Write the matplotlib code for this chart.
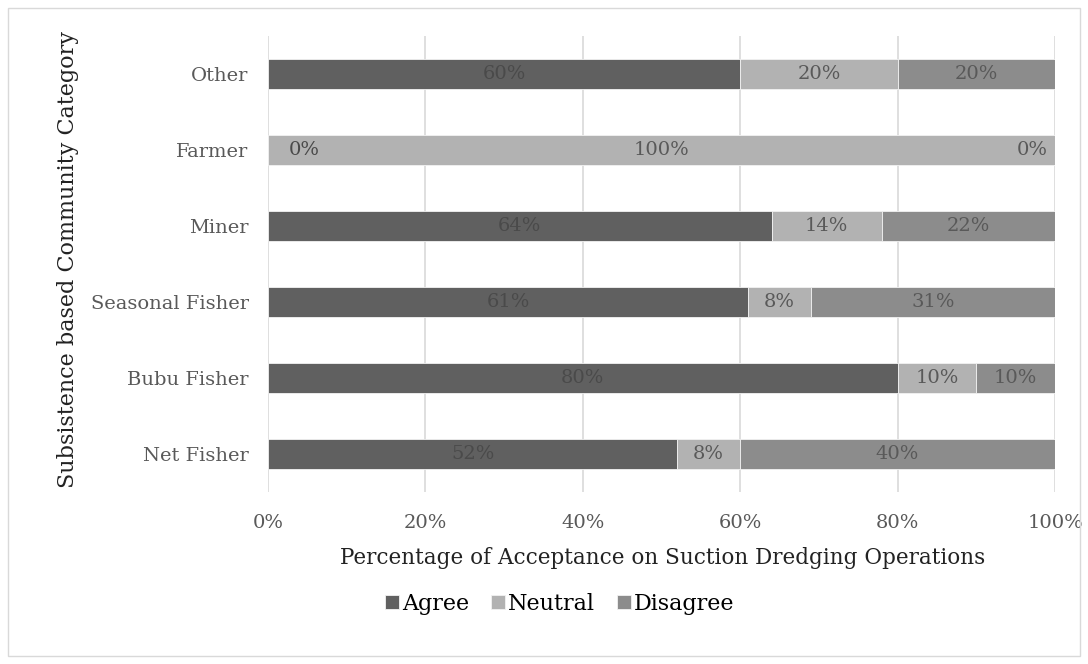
import matplotlib
matplotlib.use("Agg")
import matplotlib.pyplot as plt
from matplotlib.patches import Rectangle

categories = ["Net Fisher", "Bubu Fisher", "Seasonal Fisher", "Miner", "Farmer", "Other"]
agree = [52, 80, 61, 64, 0, 60]
neutral = [8, 10, 8, 14, 100, 20]
disagree = [40, 10, 31, 22, 0, 20]
series_names = ["Agree", "Neutral", "Disagree"]
xticks = [0, 20, 40, 60, 80, 100]

colors = ["#606060", "#b2b2b2", "#8c8c8c"]
label_colors = ["#4a4a4a", "#595959", "#595959"]

plt.rcParams["font.family"] = ["DejaVu Serif"]

W, H = 1088, 664
fig = plt.figure(figsize=(W / 100, H / 100), dpi=100)
ax = fig.add_axes([268 / W, 1 - 492 / H, (1055 - 268) / W, (492 - 36) / H])

fig.patches.append(Rectangle((8 / W, 8 / H), 1072 / W, 648 / H, transform=fig.transFigure,
                             fill=False, edgecolor="#d9d9d9", linewidth=1))

ypos = list(range(len(categories)))
left = [0] * len(categories)
for vals, name, col, lcol in zip([agree, neutral, disagree], series_names, colors, label_colors):
    ax.barh(ypos, vals, left=left, height=0.4, color=col, edgecolor="#f2f2f2",
            linewidth=0.6, label=name, zorder=3)
    for y, v, l in zip(ypos, vals, left):
        if v == 0:
            if l == 0:
                ax.annotate(f"{v}%", (0, y), xytext=(15, 0), textcoords="offset points",
                            ha="left", va="center", fontsize=14, color=lcol, zorder=4)
            else:
                ax.annotate(f"{v}%", (100, y), xytext=(-5, 0), textcoords="offset points",
                            ha="right", va="center", fontsize=14, color=lcol, zorder=4)
        else:
            ax.text(l + v / 2, y, f"{v}%", ha="center", va="center", fontsize=14,
                    color=lcol, zorder=4)
    left = [a + b for a, b in zip(left, vals)]

ax.set_xlim(0, 100)
ax.set_ylim(-0.5, len(categories) - 0.5)
ax.set_yticks(ypos)
ax.set_yticklabels(categories, fontsize=14, color="#595959")
ax.set_xticks(xticks)
ax.set_xticklabels([f"{t}%" for t in xticks], fontsize=14, color="#595959")
ax.tick_params(axis="y", length=0, pad=14)
ax.tick_params(axis="x", length=0, pad=16)
ax.grid(axis="x", color="#d9d9d9", linewidth=1.2, zorder=0)
for s in ax.spines.values():
    s.set_visible(False)

ax.set_xlabel("Percentage of Acceptance on Suction Dredging Operations", fontsize=15.5,
              color="#222222", va="center")
ax.xaxis.set_label_coords((663 - 268) / 787, (492 - 558) / 456)
ax.set_ylabel("Subsistence based Community Category", fontsize=16, color="#222222",
              va="center")
ax.yaxis.set_label_coords((68 - 268) / 787, (492 - 260) / 456)

fig.legend(loc="center", bbox_to_anchor=(560 / W, 1 - 604 / H), ncol=3, frameon=False,
           fontsize=16, handlelength=0.6, handleheight=0.6, handletextpad=0.15,
           columnspacing=1.0)

fig.savefig("out.png", dpi=100)
